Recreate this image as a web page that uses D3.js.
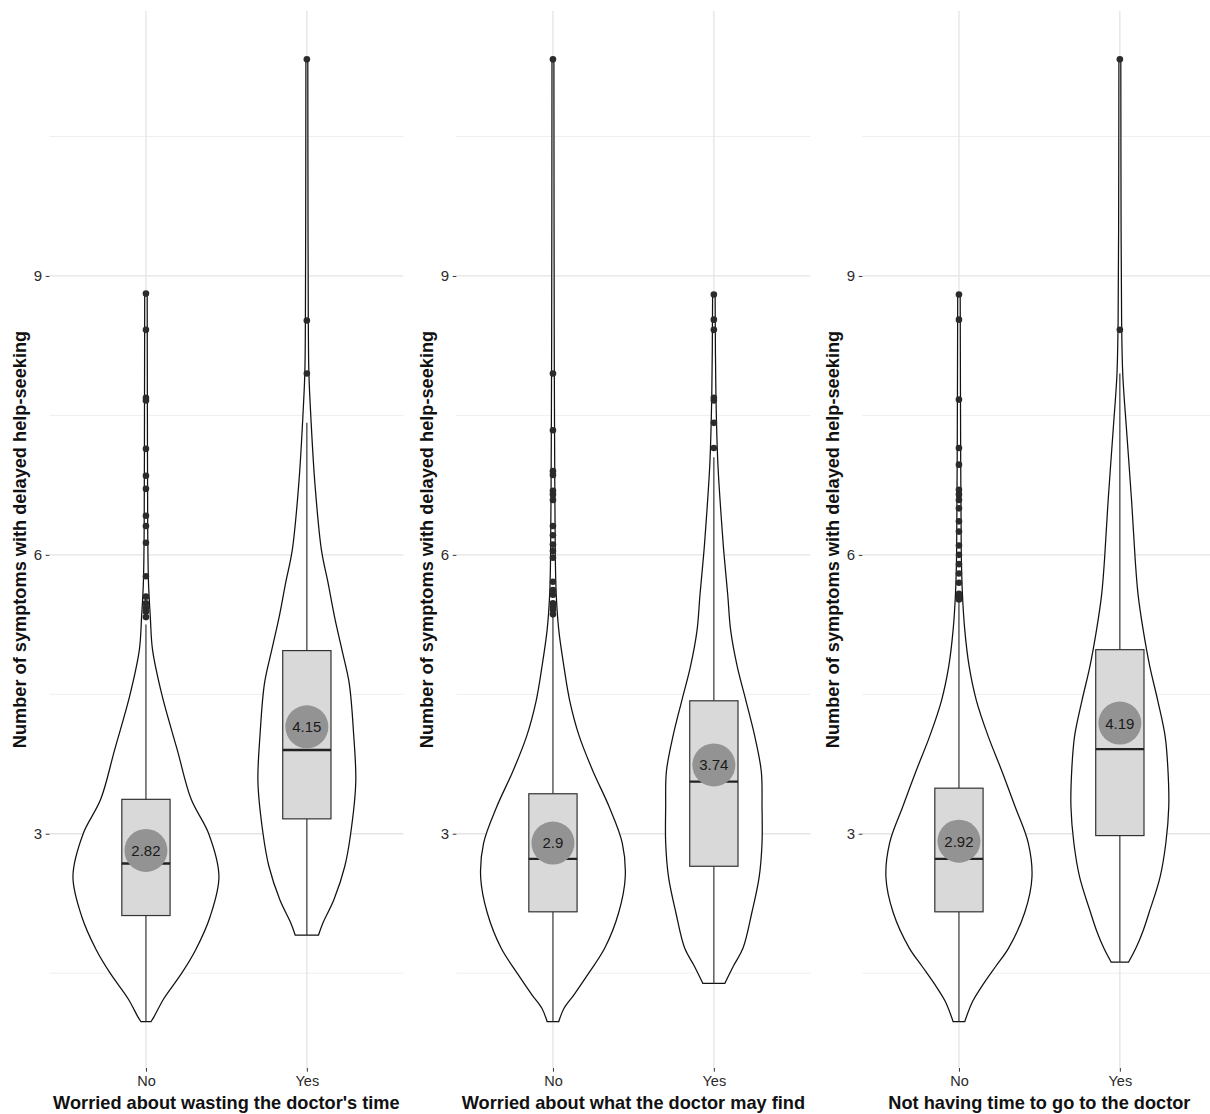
<!DOCTYPE html>
<html>
<head>
<meta charset="utf-8">
<script src="https://cdn.jsdelivr.net/npm/d3@7"></script>
<style>
  body { margin: 0; background: #fff; }
  svg { display: block; }
  text { font-family: "Liberation Sans", Arial, Helvetica, sans-serif; }
</style>
</head>
<body>
<svg id="chart" width="1210" height="1114"></svg>
<script>
// ---- data ----
const groups = ["No", "Yes"];
const panelTitles = [
  "Worried about wasting the doctor's time",
  "Worried about what the doctor may find",
  "Not having time to go to the doctor"
];
const yTitle = "Number of symptoms with delayed help-seeking";
const yTicks = [3, 6, 9];
const yMinorTicks = [1.5, 4.5, 7.5, 10.5];

// group means shown in the grey circles
const means = [[2.82, 4.15], [2.9, 3.74], [2.92, 4.19]];

// box plot summaries per panel: [No, Yes]
const q1s        = [[2.12, 3.16], [2.16, 2.65], [2.16, 2.98]];
const medians    = [[2.68, 3.90], [2.73, 3.56], [2.73, 3.91]];
const q3s        = [[3.37, 4.97], [3.43, 4.43], [3.49, 4.98]];
const whiskerLow = [[0.98, 1.91], [0.98, 1.39], [0.98, 1.62]];
const whiskerHigh= [[5.25, 7.42], [5.33, 7.05], [5.49, 7.95]];

// outlying observations per panel: [No, Yes]
const outliers1 = [
  [8.81, 8.42, 7.69, 7.66, 7.14, 6.85, 6.71, 6.42, 6.31, 6.13, 5.77, 5.55, 5.48, 5.43, 5.39, 5.33],
  [7.95, 8.52, 11.33]
];
const outliers2 = [
  [11.33, 7.95, 7.34, 6.90, 6.86, 6.69, 6.65, 6.59, 6.31, 6.21, 6.11, 6.04, 5.97, 5.71, 5.62, 5.57, 5.48, 5.44, 5.41, 5.36],
  [8.80, 8.53, 8.42, 7.69, 7.66, 7.42, 7.15]
];
const outliers3 = [
  [8.80, 8.53, 7.67, 7.15, 6.97, 6.70, 6.65, 6.59, 6.50, 6.36, 6.25, 6.10, 6.00, 5.90, 5.80, 5.70, 5.58, 5.55, 5.52],
  [8.42, 11.33]
];

// kernel density profiles: [value, relative density]
const violinNo1 = [[0.98,.07],[1.03,.11],[1.22,.24],[1.5,.49],[1.75,.68],[2.11,.88],[2.54,1.0],[3.0,.86],[3.37,.62],[3.9,.43],[4.49,.22],[4.98,.09],[5.33,.06],[5.7,.035],[6.3,.024],[7.5,.02],[8.81,.017]];
const violinYes1 = [[1.91,.16],[2.04,.22],[2.29,.37],[2.65,.52],[3.0,.60],[3.55,.67],[4.08,.64],[4.62,.58],[4.98,.48],[5.33,.38],[5.7,.29],[6.05,.20],[6.77,.11],[7.48,.055],[7.95,.028],[8.5,.02],[9.5,.016],[11.33,.013]];
const violinNo2 = [[0.98,.08],[1.12,.15],[1.27,.29],[1.5,.49],[1.77,.71],[2.15,.90],[2.53,.99],[2.9,.95],[3.29,.77],[3.67,.55],[4.05,.36],[4.43,.23],[4.8,.15],[5.19,.08],[5.57,.045],[6.0,.032],[7.0,.024],[8.2,.018],[11.33,.013]];
const violinYes2 = [[1.39,.15],[1.58,.27],[1.77,.40],[2.15,.52],[2.53,.62],[2.9,.66],[3.29,.66],[3.67,.65],[4.05,.56],[4.43,.44],[4.8,.32],[5.19,.23],[5.57,.19],[6.0,.14],[6.2,.12],[6.98,.055],[7.74,.028],[8.8,.017]];
const violinNo3 = [[0.98,.08],[1.2,.19],[1.39,.34],[1.58,.51],[1.77,.68],[2.15,.90],[2.53,1.0],[2.9,.95],[3.29,.77],[3.67,.59],[4.05,.40],[4.43,.24],[4.8,.14],[5.19,.08],[5.57,.048],[6.0,.032],[7.0,.024],[8.8,.017]];
const violinYes3 = [[1.62,.12],[1.77,.22],[1.96,.32],[2.15,.40],[2.53,.55],[2.9,.63],[3.29,.67],[3.67,.66],[4.05,.62],[4.43,.52],[4.8,.41],[5.19,.32],[5.57,.25],[5.95,.21],[6.59,.16],[7.36,.09],[7.94,.04],[8.51,.024],[9.5,.017],[11.33,.013]];

const violins = [[violinNo1, violinYes1], [violinNo2, violinYes2], [violinNo3, violinYes3]];
const outliers = [outliers1, outliers2, outliers3];

// ---- layout ----
const W = 1210, H = 1114;
const panelTop = 11, panelBottom = 1068;
const panelWidth = 354;
const panelLefts = [49.4, 456.4, 862.4];

const svg = d3.select("#chart");
svg.append("rect").attr("width", W).attr("height", H).attr("fill", "#fff");

const y = d3.scaleLinear().domain([0.48, 11.85]).range([panelBottom, panelTop]);
const halfWidth = d3.scaleLinear().domain([0, 1]).range([0, 73]);

panelTitles.forEach((title, p) => {
  const left = panelLefts[p];
  const x = d3.scalePoint().domain(groups).range([left, left + panelWidth]).padding(0.6);
  const step = x.step();
  const boxHalf = step * 0.15;
  const g = svg.append("g");

  // grid
  g.selectAll("line.minor").data(yMinorTicks).join("line")
    .attr("x1", left).attr("x2", left + panelWidth)
    .attr("y1", d => y(d)).attr("y2", d => y(d))
    .attr("stroke", "#efefef").attr("stroke-width", 1);
  g.selectAll("line.major").data(yTicks).join("line")
    .attr("x1", left).attr("x2", left + panelWidth)
    .attr("y1", d => y(d)).attr("y2", d => y(d))
    .attr("stroke", "#e4e4e4").attr("stroke-width", 1.3);
  g.selectAll("line.vgrid").data(groups).join("line")
    .attr("x1", d => x(d)).attr("x2", d => x(d))
    .attr("y1", panelTop).attr("y2", panelBottom)
    .attr("stroke", "#e4e4e4").attr("stroke-width", 1.3);

  // y axis ticks + labels
  const yAxis = d3.axisLeft(y).tickValues(yTicks).tickSize(3.7).tickPadding(3.5).tickFormat(d3.format("d"));
  const ya = g.append("g").attr("transform", `translate(${left},0)`).call(yAxis);
  ya.select(".domain").remove();
  ya.selectAll("line").attr("stroke", "#333");
  ya.selectAll("text").attr("font-size", 15).attr("fill", "#2a2a2a");

  // x axis ticks + labels
  const xAxis = d3.axisBottom(x).tickSize(3.7).tickPadding(4);
  const xa = g.append("g").attr("transform", `translate(0,${panelBottom})`).call(xAxis);
  xa.select(".domain").remove();
  xa.selectAll("line").attr("stroke", "#333");
  xa.selectAll("text").attr("font-size", 14.5).attr("fill", "#2a2a2a");

  // axis titles
  g.append("text")
    .attr("transform", `translate(${left - 23.4},${(panelTop + panelBottom) / 2}) rotate(-90)`)
    .attr("text-anchor", "middle")
    .attr("font-size", 18.2).attr("font-weight", "bold").attr("fill", "#111")
    .text(yTitle);
  g.append("text")
    .attr("x", left + panelWidth / 2).attr("y", 1109)
    .attr("text-anchor", "middle")
    .attr("font-size", 18.2).attr("font-weight", "bold").attr("fill", "#111")
    .text(title);

  groups.forEach((grp, i) => {
    const cx = x(grp);

    // violin
    const area = d3.area()
      .y(d => y(d[0]))
      .x0(d => cx - halfWidth(d[1]))
      .x1(d => cx + halfWidth(d[1]))
      .curve(d3.curveCatmullRom.alpha(0.5));
    g.append("path").datum(violins[p][i])
      .attr("d", area)
      .attr("fill", "#fff").attr("stroke", "#111").attr("stroke-width", 1.25);

    // whiskers
    g.append("line")
      .attr("x1", cx).attr("x2", cx)
      .attr("y1", y(q3s[p][i])).attr("y2", y(whiskerHigh[p][i]))
      .attr("stroke", "#333").attr("stroke-width", 1.2);
    g.append("line")
      .attr("x1", cx).attr("x2", cx)
      .attr("y1", y(q1s[p][i])).attr("y2", y(whiskerLow[p][i]))
      .attr("stroke", "#333").attr("stroke-width", 1.2);

    // box
    g.append("rect")
      .attr("x", cx - boxHalf).attr("width", boxHalf * 2)
      .attr("y", y(q3s[p][i])).attr("height", y(q1s[p][i]) - y(q3s[p][i]))
      .attr("fill", "#d9d9d9").attr("stroke", "#333").attr("stroke-width", 1.2);
    g.append("line")
      .attr("x1", cx - boxHalf).attr("x2", cx + boxHalf)
      .attr("y1", y(medians[p][i])).attr("y2", y(medians[p][i]))
      .attr("stroke", "#222").attr("stroke-width", 2.4);

    // outliers
    g.selectAll(null).data(outliers[p][i]).join("circle")
      .attr("cx", cx).attr("cy", d => y(d)).attr("r", 3.3)
      .attr("fill", "#2b2b2b");

    // mean marker
    g.append("circle")
      .attr("cx", cx).attr("cy", y(means[p][i])).attr("r", 21.5)
      .attr("fill", "#939393");
    g.append("text")
      .attr("x", cx).attr("y", y(means[p][i]))
      .attr("dy", "0.36em")
      .attr("text-anchor", "middle")
      .attr("font-size", 15).attr("fill", "#1a1a1a")
      .text(means[p][i]);
  });
});
</script>
</body>
</html>
